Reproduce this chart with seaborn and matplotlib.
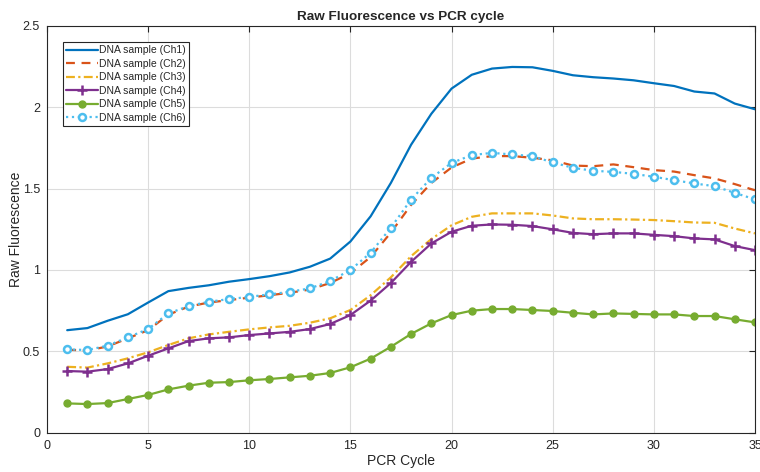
import matplotlib
matplotlib.use('Agg')
import matplotlib.pyplot as plt
import seaborn as sns
import pandas as pd

cycles = list(range(1, 36))

ch1 = [0.63, 0.643, 0.688, 0.728, 0.80, 0.87, 0.89, 0.906, 0.928, 0.944,
       0.962, 0.985, 1.02, 1.07, 1.175, 1.33, 1.535, 1.77, 1.96, 2.115,
       2.20, 2.238, 2.248, 2.246, 2.224, 2.197, 2.185, 2.177, 2.166, 2.148,
       2.131, 2.097, 2.085, 2.023, 1.988]
ch2 = [0.51, 0.505, 0.53, 0.58, 0.63, 0.725, 0.775, 0.80, 0.815, 0.83,
       0.845, 0.86, 0.88, 0.92, 0.98, 1.08, 1.23, 1.40, 1.535, 1.63,
       1.685, 1.70, 1.70, 1.69, 1.674, 1.642, 1.638, 1.649, 1.632, 1.614,
       1.605, 1.583, 1.563, 1.528, 1.49]
ch3 = [0.405, 0.40, 0.426, 0.457, 0.494, 0.539, 0.58, 0.604, 0.62, 0.635,
       0.647, 0.657, 0.676, 0.703, 0.754, 0.845, 0.955, 1.085, 1.19, 1.275,
       1.327, 1.348, 1.348, 1.348, 1.335, 1.317, 1.312, 1.312, 1.31, 1.307,
       1.30, 1.292, 1.29, 1.255, 1.225]
ch4 = [0.379, 0.375, 0.391, 0.426, 0.473, 0.518, 0.563, 0.58, 0.586, 0.60,
       0.61, 0.62, 0.637, 0.668, 0.723, 0.812, 0.92, 1.05, 1.163, 1.235,
       1.272, 1.28, 1.278, 1.27, 1.25, 1.228, 1.22, 1.225, 1.225, 1.216,
       1.208, 1.194, 1.188, 1.147, 1.122]
ch5 = [0.18, 0.176, 0.182, 0.207, 0.232, 0.266, 0.289, 0.307, 0.311, 0.322,
       0.33, 0.34, 0.35, 0.367, 0.402, 0.455, 0.528, 0.607, 0.672, 0.723,
       0.75, 0.76, 0.76, 0.754, 0.748, 0.737, 0.727, 0.733, 0.73, 0.727,
       0.727, 0.717, 0.717, 0.697, 0.678]
ch6 = [0.512, 0.508, 0.535, 0.586, 0.637, 0.733, 0.778, 0.805, 0.821, 0.835,
       0.85, 0.866, 0.887, 0.932, 1.0, 1.106, 1.26, 1.433, 1.566, 1.658,
       1.706, 1.72, 1.71, 1.70, 1.661, 1.628, 1.61, 1.603, 1.591, 1.573,
       1.552, 1.532, 1.515, 1.474, 1.434]

labels = ['DNA sample (Ch1)', 'DNA sample (Ch2)', 'DNA sample (Ch3)',
          'DNA sample (Ch4)', 'DNA sample (Ch5)', 'DNA sample (Ch6)']
series = [ch1, ch2, ch3, ch4, ch5, ch6]

# MATLAB default colour order
colors = ['#0072BD', '#D95319', '#EDB120', '#7E2F8E', '#77AC30', '#4DBEEE']
styles = [
    dict(linestyle='-'),
    dict(linestyle=(0, (4, 3))),
    dict(linestyle=(0, (4, 1.5, 1, 1.5))),
    dict(linestyle='-', marker='+', markersize=7, markeredgewidth=1.8),
    dict(linestyle='-', marker='o', markersize=5, markeredgewidth=1),
    dict(linestyle=':', marker='o', markersize=5, markerfacecolor='white',
         markeredgewidth=1.8),
]

sns.set_style('whitegrid')
plt.rcParams['font.family'] = ['Liberation Sans', 'DejaVu Sans']

fig = plt.figure(figsize=(7.6, 4.72), dpi=100)
ax = fig.add_axes([0.0618, 0.0833, 0.9316, 0.8617])

for vals, lbl, col, st in zip(series, labels, colors, styles):
    df = pd.DataFrame({'cycle': cycles, 'value': vals})
    # seaborn paints marker edges white by default, so set them to the line colour
    sns.lineplot(data=df, x='cycle', y='value', ax=ax, color=col, label=lbl,
                 linewidth=1.6, markeredgecolor=col, **st)

ax.set_xlim(0, 35)
ax.set_ylim(0, 2.5)
ax.set_xticks([0, 5, 10, 15, 20, 25, 30, 35])
ax.set_yticks([0, 0.5, 1, 1.5, 2, 2.5])
ax.set_yticklabels(['0', '0.5', '1', '1.5', '2', '2.5'])
ax.set_title('Raw Fluorescence vs PCR cycle', fontsize=9.7, fontweight='bold', pad=4)
ax.set_xlabel('PCR Cycle', fontsize=10, labelpad=2)
ax.set_ylabel('Raw Fluorescence', fontsize=10, labelpad=0)

ax.grid(True, color='#dcdcdc', linewidth=0.8)
for sp in ax.spines.values():
    sp.set_color('#262626')
    sp.set_linewidth(0.8)
ax.tick_params(direction='in', length=4, width=0.8, top=True, right=True,
               labelsize=9, colors='#262626', pad=5)

leg = ax.legend(loc='upper left', bbox_to_anchor=(0.02, 0.965), fontsize=7.5,
                frameon=True, fancybox=False, handlelength=3.0,
                handletextpad=0.1, labelspacing=0.33, borderpad=0.3,
                borderaxespad=0.2)
leg.get_frame().set_edgecolor('#262626')
leg.get_frame().set_linewidth(0.8)
leg.get_frame().set_alpha(1)

fig.savefig('out.png', dpi=100)
